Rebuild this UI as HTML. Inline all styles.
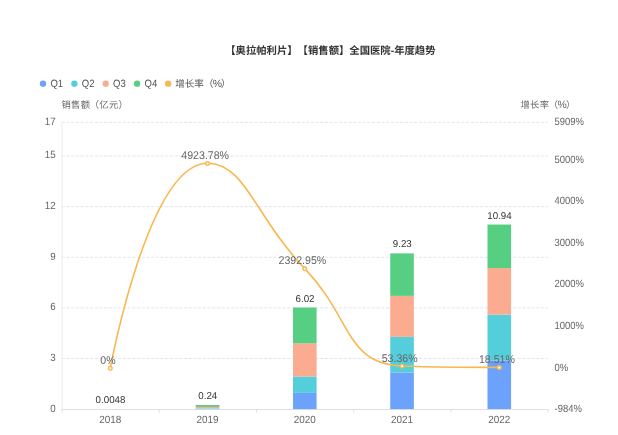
<!DOCTYPE html>
<html lang="zh-CN"><head><meta charset="utf-8"><title>chart</title>
<style>html,body{margin:0;padding:0;background:#fff;width:618px;height:435px;overflow:hidden}</style></head>
<body>
<svg width="618" height="435" viewBox="0 0 618 435" style="display:block;font-family:'Liberation Sans','Noto Sans CJK SC',sans-serif;text-spacing-trim:space-all;text-rendering:geometricPrecision">
<rect width="618" height="435" fill="#fff"/>
<text id="title" x="225.20" y="54.30" font-size="10.35" font-weight="bold" fill="#333">【奥拉帕利片】【销售额】全国医院-年度趋势</text>
<circle cx="43.0" cy="83.7" r="3.15" fill="#6CA2FB"/>
<text transform="translate(50.40 86.90) scale(0.9 1)" font-size="10.6" fill="#555">Q1</text>
<circle cx="74.4" cy="83.7" r="3.15" fill="#55CEDB"/>
<text transform="translate(81.80 86.90) scale(0.9 1)" font-size="10.6" fill="#555">Q2</text>
<circle cx="105.7" cy="83.7" r="3.15" fill="#FBAB8F"/>
<text transform="translate(113.10 86.90) scale(0.9 1)" font-size="10.6" fill="#555">Q3</text>
<circle cx="137.1" cy="83.7" r="3.15" fill="#57CF83"/>
<text transform="translate(144.50 86.90) scale(0.9 1)" font-size="10.6" fill="#555">Q4</text>
<circle cx="168.2" cy="83.7" r="3.15" fill="#F8B84F"/>
<text x="175.20" y="86.90" font-size="9.6" fill="#555">增长率<tspan dx="-0.3">（</tspan><tspan dx="-0.6" font-size="10.4">%</tspan><tspan dx="-1.0">）</tspan></text>
<text id="ln" x="61.50" y="108.30" font-size="9.3" letter-spacing="0.3" fill="#666">销售额<tspan dx="-0.6">（</tspan>亿元）</text>
<text id="rn" x="520.50" y="107.80" font-size="9.3" letter-spacing="0.3" fill="#666">增长率<tspan dx="-0.6">（</tspan><tspan dx="-0.8" font-size="10.4">%</tspan><tspan dx="-1.1">）</tspan></text>
<line x1="61.7" x2="547.9" y1="122.30" y2="122.30" stroke="#E0E5F1" stroke-width="1" stroke-dasharray="3.2 1.5"/>
<line x1="61.7" x2="547.9" y1="156.04" y2="156.04" stroke="#E0E5F1" stroke-width="1" stroke-dasharray="3.2 1.5"/>
<line x1="61.7" x2="547.9" y1="206.65" y2="206.65" stroke="#E0E5F1" stroke-width="1" stroke-dasharray="3.2 1.5"/>
<line x1="61.7" x2="547.9" y1="257.26" y2="257.26" stroke="#E0E5F1" stroke-width="1" stroke-dasharray="3.2 1.5"/>
<line x1="61.7" x2="547.9" y1="307.88" y2="307.88" stroke="#E0E5F1" stroke-width="1" stroke-dasharray="3.2 1.5"/>
<line x1="61.7" x2="547.9" y1="358.49" y2="358.49" stroke="#E0E5F1" stroke-width="1" stroke-dasharray="3.2 1.5"/>
<line x1="62.0" x2="62.0" y1="122.3" y2="409.1" stroke="#EAF0EF" stroke-width="1.2"/>
<line x1="61.7" x2="548.4" y1="409.5" y2="409.5" stroke="#DAE3E2" stroke-width="1"/>
<line x1="62.00" x2="62.00" y1="409.1" y2="412.70000000000005" stroke="#DAE3E2" stroke-width="1"/>
<line x1="159.24" x2="159.24" y1="409.1" y2="412.70000000000005" stroke="#DAE3E2" stroke-width="1"/>
<line x1="256.48" x2="256.48" y1="409.1" y2="412.70000000000005" stroke="#DAE3E2" stroke-width="1"/>
<line x1="353.72" x2="353.72" y1="409.1" y2="412.70000000000005" stroke="#DAE3E2" stroke-width="1"/>
<line x1="450.96" x2="450.96" y1="409.1" y2="412.70000000000005" stroke="#DAE3E2" stroke-width="1"/>
<line x1="548.20" x2="548.20" y1="409.1" y2="412.70000000000005" stroke="#DAE3E2" stroke-width="1"/>
<text transform="translate(55.60 124.70) scale(0.93 1)" font-size="10.5" text-anchor="end" fill="#666">17</text>
<text transform="translate(55.60 158.44) scale(0.93 1)" font-size="10.5" text-anchor="end" fill="#666">15</text>
<text transform="translate(55.60 209.05) scale(0.93 1)" font-size="10.5" text-anchor="end" fill="#666">12</text>
<text transform="translate(55.60 259.66) scale(0.93 1)" font-size="10.5" text-anchor="end" fill="#666">9</text>
<text transform="translate(55.60 310.28) scale(0.93 1)" font-size="10.5" text-anchor="end" fill="#666">6</text>
<text transform="translate(55.60 360.89) scale(0.93 1)" font-size="10.5" text-anchor="end" fill="#666">3</text>
<text transform="translate(55.60 411.50) scale(0.93 1)" font-size="10.5" text-anchor="end" fill="#666">0</text>
<text transform="translate(554.60 124.70) scale(0.9 1)" font-size="10.5" fill="#666">5909%</text>
<text transform="translate(554.60 162.52) scale(0.9 1)" font-size="10.5" fill="#666">5000%</text>
<text transform="translate(554.60 204.13) scale(0.9 1)" font-size="10.5" fill="#666">4000%</text>
<text transform="translate(554.60 245.74) scale(0.9 1)" font-size="10.5" fill="#666">3000%</text>
<text transform="translate(554.60 287.34) scale(0.9 1)" font-size="10.5" fill="#666">2000%</text>
<text transform="translate(554.60 328.95) scale(0.9 1)" font-size="10.5" fill="#666">1000%</text>
<text transform="translate(554.60 370.56) scale(0.9 1)" font-size="10.5" fill="#666">0%</text>
<text transform="translate(554.60 411.50) scale(0.9 1)" font-size="10.5" fill="#666">-984%</text>
<text transform="translate(110.32 422.90) scale(0.945 1)" font-size="10.5" text-anchor="middle" fill="#666">2018</text>
<text transform="translate(207.56 422.90) scale(0.945 1)" font-size="10.5" text-anchor="middle" fill="#666">2019</text>
<text transform="translate(304.80 422.90) scale(0.945 1)" font-size="10.5" text-anchor="middle" fill="#666">2020</text>
<text transform="translate(402.04 422.90) scale(0.945 1)" font-size="10.5" text-anchor="middle" fill="#666">2021</text>
<text transform="translate(499.28 422.90) scale(0.945 1)" font-size="10.5" text-anchor="middle" fill="#666">2022</text>
<rect x="195.76" y="405.05" width="23.6" height="4.05" fill="#FBAB8F"/>
<rect x="195.76" y="405.05" width="23.6" height="1.7" fill="#57CF83"/>
<rect x="195.76" y="408.09" width="23.6" height="1.51" fill="#A9DCEC"/>
<rect x="293.00" y="392.90" width="23.6" height="16.20" fill="#6CA2FB"/>
<rect x="293.00" y="376.54" width="23.6" height="16.36" fill="#55CEDB"/>
<rect x="293.00" y="343.30" width="23.6" height="33.24" fill="#FBAB8F"/>
<rect x="293.00" y="307.54" width="23.6" height="35.77" fill="#57CF83"/>
<rect x="390.24" y="372.49" width="23.6" height="36.61" fill="#6CA2FB"/>
<rect x="390.24" y="336.89" width="23.6" height="35.60" fill="#55CEDB"/>
<rect x="390.24" y="295.90" width="23.6" height="41.00" fill="#FBAB8F"/>
<rect x="390.24" y="253.38" width="23.6" height="42.51" fill="#57CF83"/>
<rect x="487.48" y="360.34" width="23.6" height="48.76" fill="#6CA2FB"/>
<rect x="487.48" y="314.62" width="23.6" height="45.72" fill="#55CEDB"/>
<rect x="487.48" y="268.06" width="23.6" height="46.56" fill="#FBAB8F"/>
<rect x="487.48" y="224.54" width="23.6" height="43.53" fill="#57CF83"/>
<text transform="translate(110.52 403.20) scale(0.975 1)" font-size="10.0" text-anchor="middle" fill="#333">0.0048</text>
<text transform="translate(207.76 398.70) scale(0.975 1)" font-size="10.0" text-anchor="middle" fill="#333">0.24</text>
<text transform="translate(305.00 301.90) scale(0.975 1)" font-size="10.0" text-anchor="middle" fill="#333">6.02</text>
<text transform="translate(402.24 247.20) scale(0.975 1)" font-size="10.0" text-anchor="middle" fill="#333">9.23</text>
<text transform="translate(499.48 218.70) scale(0.975 1)" font-size="10.0" text-anchor="middle" fill="#333">10.94</text>
<path d="M110.32,368.16 C110.32,368.16 147.98,163.29 207.56,163.29 C245.22,163.29 255.19,216.90 304.80,268.59 C352.43,318.22 345.07,363.89 402.04,365.94 C442.31,367.39 499.28,367.39 499.28,367.39" fill="none" stroke="#F8B84F" stroke-width="1.6" stroke-linejoin="round"/>
<circle cx="110.32" cy="368.36" r="1.8" fill="#fff" stroke="#F8B84F" stroke-width="1.4"/>
<circle cx="207.56" cy="163.49" r="1.8" fill="#fff" stroke="#F8B84F" stroke-width="1.4"/>
<circle cx="304.80" cy="268.79" r="1.8" fill="#fff" stroke="#F8B84F" stroke-width="1.4"/>
<circle cx="402.04" cy="366.14" r="1.8" fill="#fff" stroke="#F8B84F" stroke-width="1.4"/>
<circle cx="499.28" cy="367.59" r="1.8" fill="#fff" stroke="#F8B84F" stroke-width="1.4"/>
<text transform="translate(107.92 363.96) scale(0.946 1)" font-size="11.2" text-anchor="middle" fill="#666">0%</text>
<text transform="translate(205.16 159.09) scale(0.946 1)" font-size="11.2" text-anchor="middle" fill="#666">4923.78%</text>
<text transform="translate(302.40 264.39) scale(0.946 1)" font-size="11.2" text-anchor="middle" fill="#666">2392.95%</text>
<text transform="translate(399.64 361.74) scale(0.946 1)" font-size="11.2" text-anchor="middle" fill="#666">53.36%</text>
<text transform="translate(496.88 363.19) scale(0.946 1)" font-size="11.2" text-anchor="middle" fill="#666">18.51%</text>
</svg>
</body></html>
